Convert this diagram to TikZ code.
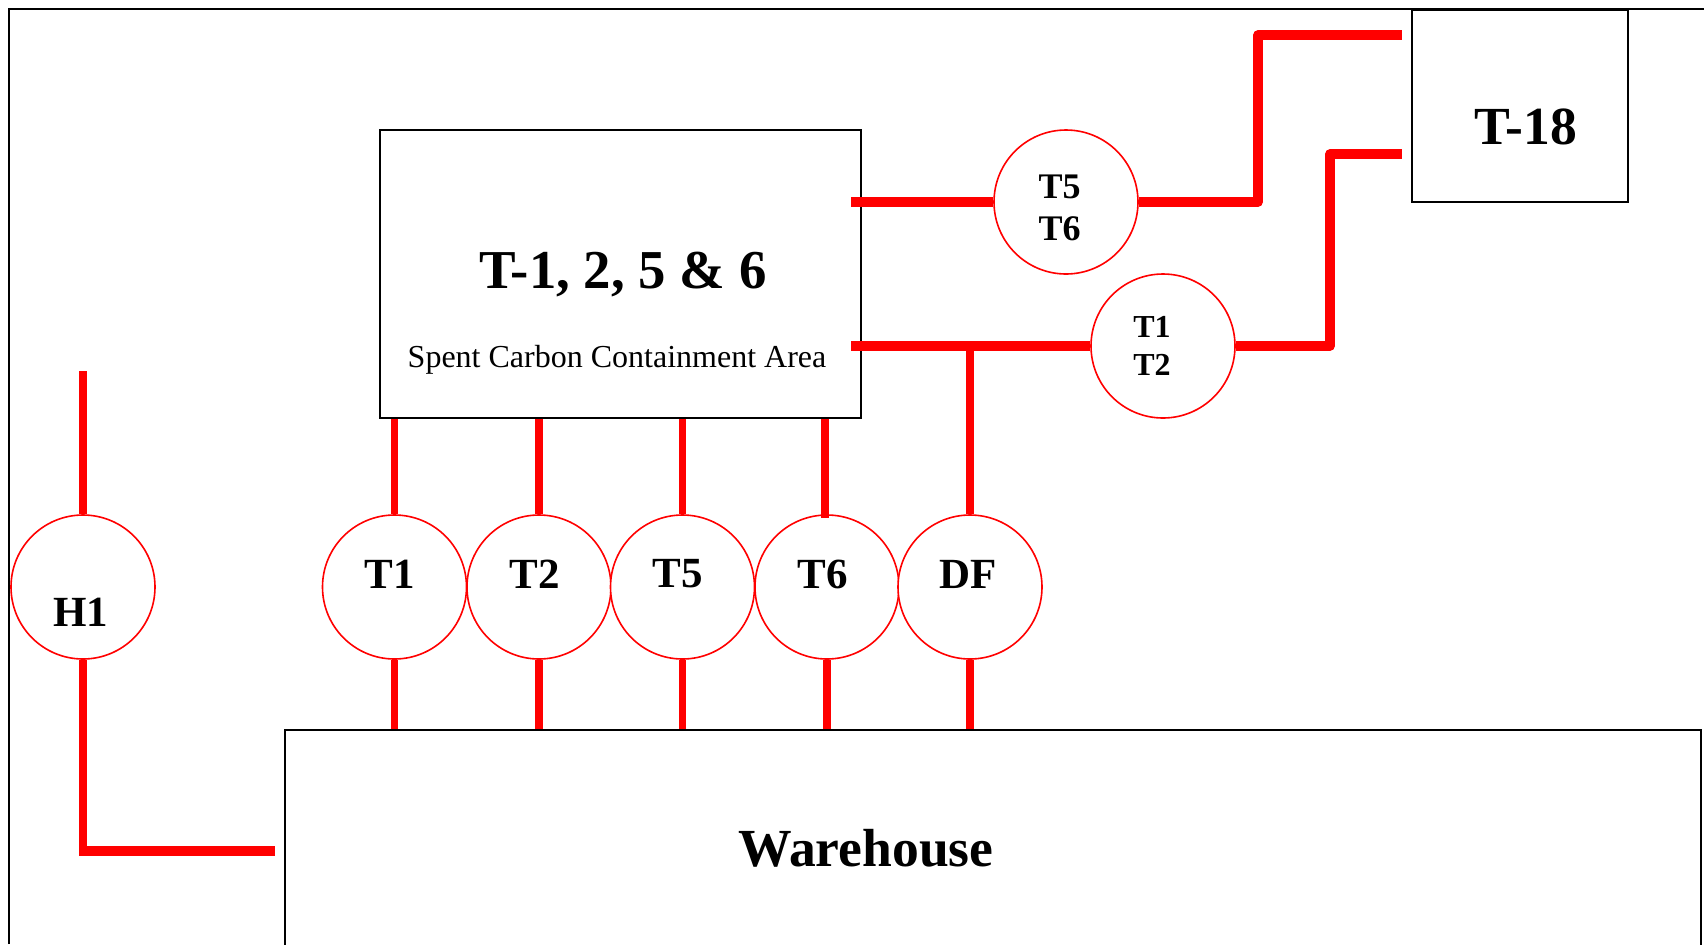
\documentclass[tikz,border=0pt]{standalone}
\usepackage{fontspec}
\setmainfont{Liberation Serif}
\begin{document}
\begin{tikzpicture}[x=0.5pt,y=-0.5pt,
  pipe/.style={draw=red,line width=3.6pt},
  hpipe/.style={draw=red,line width=4.6pt,line join=round},
  valve/.style={circle,draw=red,line width=0.8pt,minimum size=72pt,inner sep=0pt,fill=white},
  area/.style={draw=black,line width=0.9pt,inner sep=0pt},
  big/.style={font=\fontsize{26.8}{30}\selectfont\bfseries,inner sep=0pt},
  vlab/.style={font=\fontsize{21.5}{24}\selectfont\bfseries,inner sep=0pt},
  slab/.style={font=\fontsize{18}{20}\selectfont\bfseries,inner sep=0pt},
  tlab/.style={font=\fontsize{16}{18}\selectfont\bfseries,inner sep=0pt}]
\useasboundingbox (0,0) rectangle (1704,944);
\fill[white] (0,0) rectangle (1704,944);
\draw[line width=0.8pt] (9,944) -- (9,9) -- (1704,9);

% areas
\node[area,minimum width=240.5pt,minimum height=144pt] (box) at (620.5,274) {};
\node[big,font=\fontsize{27.4}{30}\selectfont\bfseries] (boxt) at (623,275) {T-1, 2, 5 \& 6};
\node[font=\fontsize{16}{18}\selectfont,inner sep=0pt] (boxs) at (617,360) {Spent Carbon Containment Area};

\node[area,minimum width=108pt,minimum height=96pt] (t18) at (1520,106) {};
\node[big] (t18t) at (1526,127) {T-18};

\node[area,minimum width=708pt,minimum height=118pt] (wh) at (993,848) {};
\node[big] (wht) at (866,848) {Warehouse};

% valves
\node[valve] (h1c) at (83,587) {};
\node[valve] (t1c) at (394.5,587) {};
\node[valve] (t2c) at (539,587) {};
\node[valve] (t5c) at (682.5,587) {};
\node[valve] (t6c) at (827,587) {};
\node[valve] (dfc) at (970,587) {};
\node[valve] (t56c) at (1066,202) {};
\node[valve] (t12c) at (1163,346) {};

% pipes
\coordinate (s1) at (851,202);
\coordinate (k1) at (1258,35);
\coordinate (e1) at (1402,35);
\draw[hpipe] (s1) -- (t56c.west);
\draw[hpipe] (t56c.east) -- (k1 |- t56c.east) -- (k1) -- (e1);

\coordinate (s2) at (851,346);
\coordinate (k2) at (1330,154);
\coordinate (e2) at (1402,154);
\draw[hpipe] (s2) -- (t12c.west);
\draw[hpipe] (t12c.east) -- (k2 |- t12c.east) -- (k2) -- (e2);
\draw[pipe] (dfc.north |- s2) -- (dfc.north);

\foreach \v in {t1c,t2c,t5c}{
  \draw[pipe] (\v.north |- box.south) -- (\v.north);
}
\draw[pipe] ([xshift=-1pt]t6c.north |- box.south) -- ([xshift=-1pt,yshift=-2pt]t6c.north);
\foreach \v in {t1c,t2c,t5c,t6c,dfc}{
  \draw[pipe] (\v.south) -- (\v.south |- wh.north);
}

\coordinate (htop) at (83,371);
\coordinate (hc) at (83,851);
\coordinate (he) at (275,851);
\draw[pipe] (htop) -- (h1c.north);
\draw[pipe] (h1c.south) -- (hc);
\draw[draw=red,line width=5.4pt] ([xshift=-1.8pt]hc) -- (he);

% valve labels
\node[vlab] (h1t) at (81,612) {H1};
\node[vlab] (t1t) at (390,574) {T1};
\node[vlab] (t2t) at (535,574) {T2};
\node[vlab] (t5t) at (678,574) {T5};
\node[vlab] (t6t) at (823,574) {T6};
\node[vlab] (dft) at (968,574) {DF};
\node[slab] (t56a) at (1059.5,187) {T5};
\node[slab] (t56b) at (1059.5,229) {T6};
\node[tlab] (t12a) at (1152,327) {T1};
\node[tlab] (t12b) at (1152,365) {T2};
\end{tikzpicture}
\end{document}
